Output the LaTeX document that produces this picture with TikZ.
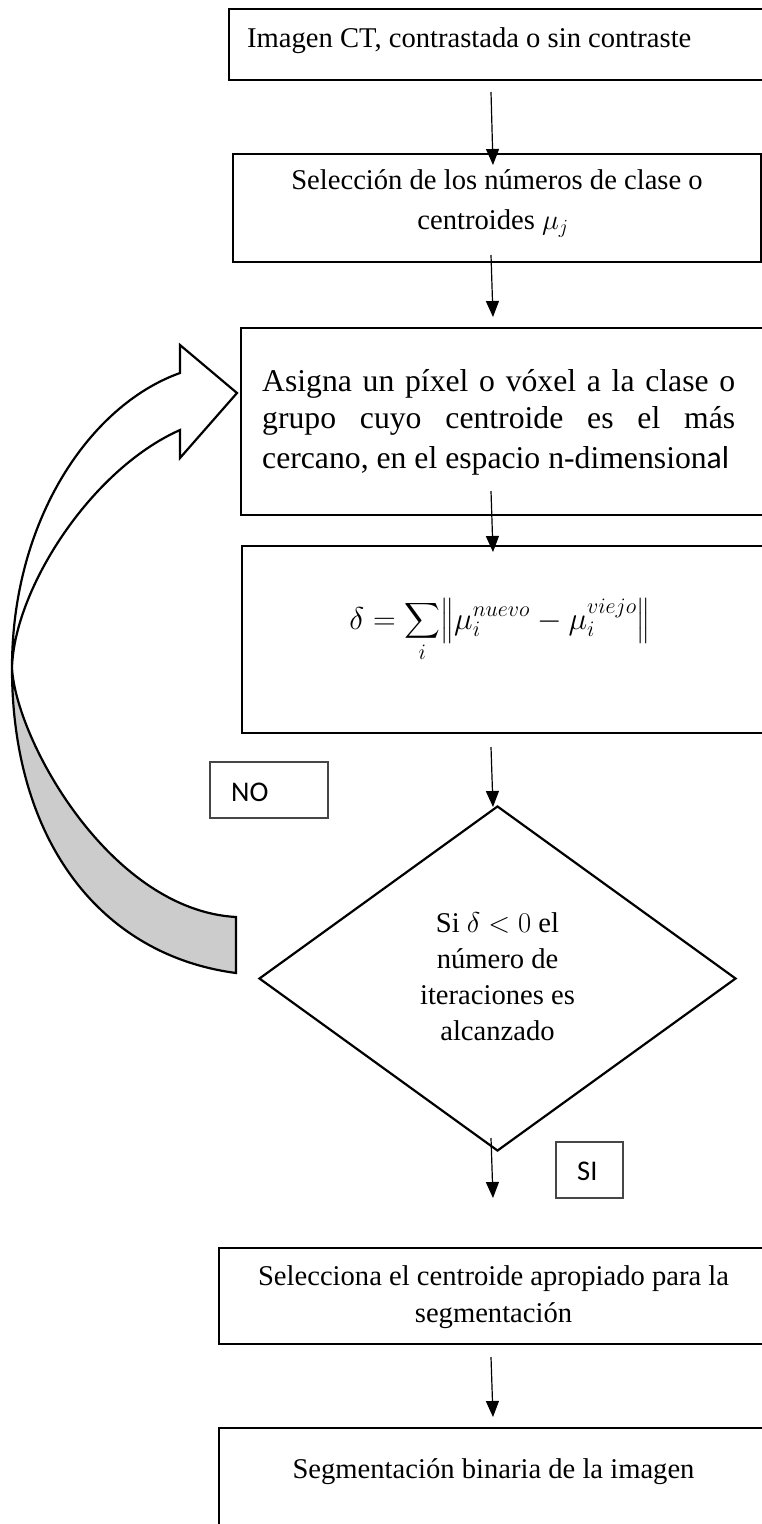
\documentclass[tikz,border=0pt]{standalone}
\usepackage{fix-cm}
\usepackage{amsmath}
\usepackage{exscale}
\usepackage{fontspec}
\setmainfont{Liberation Serif}
\newfontfamily\carlito{Carlito}
\usetikzlibrary{shapes.geometric,arrows.meta}
\definecolor{lblgray}{RGB}{70,70,70}
\definecolor{ribbongray}{RGB}{204,204,204}
\begin{document}
\begin{tikzpicture}[x=1pt,y=-1pt,
  stepbox/.style={draw=black,line width=2.4pt,fill=white,rectangle,inner sep=0pt},
  decbox/.style={draw=black,line width=2.2pt,fill=white,shape=diamond,inner sep=0pt},
  lblbox/.style={draw=lblgray,line width=1.5pt,fill=white,rectangle,inner sep=0pt},
  conn/.style={draw=black,line width=1.2pt,-{Triangle[length=16pt,width=13pt]}},
  tx/.style={inner sep=0pt,font=\fontsize{28.6}{34}\selectfont},
  txmath/.style={inner sep=0pt,font=\fontsize{31.5}{38}\selectfont},
  txbig/.style={inner sep=0pt,font=\fontsize{31.7}{38}\selectfont},
  txsans/.style={inner sep=0pt,font=\carlito\fontsize{28.5}{34}\selectfont},
  ribbon/.style={draw=black,line width=2.2pt,line join=miter}
]
\useasboundingbox (0,0) rectangle (762,1524);
\fill[white] (0,0) rectangle (762,1524);
\clip (0,0) rectangle (762,1524);

% boxes
\node[stepbox,minimum width=551pt,minimum height=71pt] (b1) at (504.5,44.5) {};
\node[stepbox,minimum width=528pt,minimum height=108pt] (b2) at (497,208) {};
\node[stepbox,minimum width=539pt,minimum height=187pt] (b3) at (510.5,421.5) {};
\node[stepbox,minimum width=538pt,minimum height=187pt] (b4) at (511,639.5) {};
\node[decbox,minimum width=477pt,minimum height=345pt] (d) at (497.5,978.5) {};
\node[stepbox,minimum width=561pt,minimum height=96pt] (b5) at (499.5,1296) {};
\node[stepbox,minimum width=561pt,minimum height=112pt] (b6) at (499.5,1484) {};
\node[lblbox,minimum width=118pt,minimum height=56pt] (no) at (269,790) {};
\node[lblbox,minimum width=67pt,minimum height=56pt] (si) at (589.5,1170) {};

% curved return arrow
\filldraw[ribbon,fill=ribbongray] (12,668) .. controls (12,840) and (100,955) .. (236,973)
  -- (236,917) .. controls (110,910) and (16,740) .. (12,668) -- cycle;
\filldraw[ribbon,fill=white] (180,373) .. controls (90,405) and (12,520) .. (12,668)
  .. controls (14,590) and (90,470) .. (180,430) -- (180,458) -- (237,393) -- (180,345) -- cycle;

% texts
\node[tx,anchor=base west] (t1) at (247,47) {Imagen CT, contrastada o sin contraste};
\node[tx,anchor=base] (t2a) at (497,189.5) {Selección de los números de clase o};
\node[tx,anchor=base] (t2b) at (493,229) {centroides $\mu_j$};
\node[txbig,anchor=base west] (t3a) at (262,391) {\makebox[473pt][s]{Asigna un píxel o vóxel a la clase o}};
\node[txbig,anchor=base west] (t3b) at (262,428) {\makebox[473pt][s]{grupo cuyo centroide es el más}};
\node[txbig,anchor=base west] (t3c) at (262,468) {cercano, en el espacio n-dimension{\carlito al}};
\node[txmath,anchor=base] (t4) at (500,629) {$\displaystyle\delta=\sum_i\bigl\|\mu_i^{nuevo}-\mu_i^{viejo}\bigr\|$};
\node[tx,anchor=base] (td1) at (497.5,932) {Si $\delta<0$ el};
\node[tx,anchor=base] (td2) at (497.5,968) {número de};
\node[tx,anchor=base] (td3) at (497.5,1004) {iteraciones es};
\node[tx,anchor=base] (td4) at (497.5,1040) {alcanzado};
\node[tx,anchor=base] (t5a) at (493.5,1285) {Selecciona el centroide apropiado para la};
\node[tx,anchor=base] (t5b) at (493.5,1322) {segmentación};
\node[tx,anchor=base] (t6) at (493.5,1478) {Segmentación binaria de la imagen};
\node[txsans,anchor=base west] (tno) at (231,801.5) {NO};
\node[txsans,anchor=base west] (tsi) at (577,1180) {SI};

% connectors
\coordinate (a1s) at (491,92);   \coordinate (a1e) at (493,165);
\coordinate (a2s) at (491,255);  \coordinate (a2e) at (493,317);
\coordinate (a3s) at (491,491);  \coordinate (a3e) at (493,552);
\coordinate (a4s) at (491,747);  \coordinate (a4e) at (493,807);
\coordinate (a5s) at (491,1138); \coordinate (a5e) at (493,1198);
\coordinate (a6s) at (491,1357); \coordinate (a6e) at (493,1417);
\draw[conn] (a1s) -- (a1e);
\draw[conn] (a2s) -- (a2e);
\draw[conn] (a3s) -- (a3e);
\draw[conn] (a4s) -- (a4e);
\draw[conn] (a5s) -- (a5e);
\draw[conn] (a6s) -- (a6e);
\end{tikzpicture}
\end{document}
